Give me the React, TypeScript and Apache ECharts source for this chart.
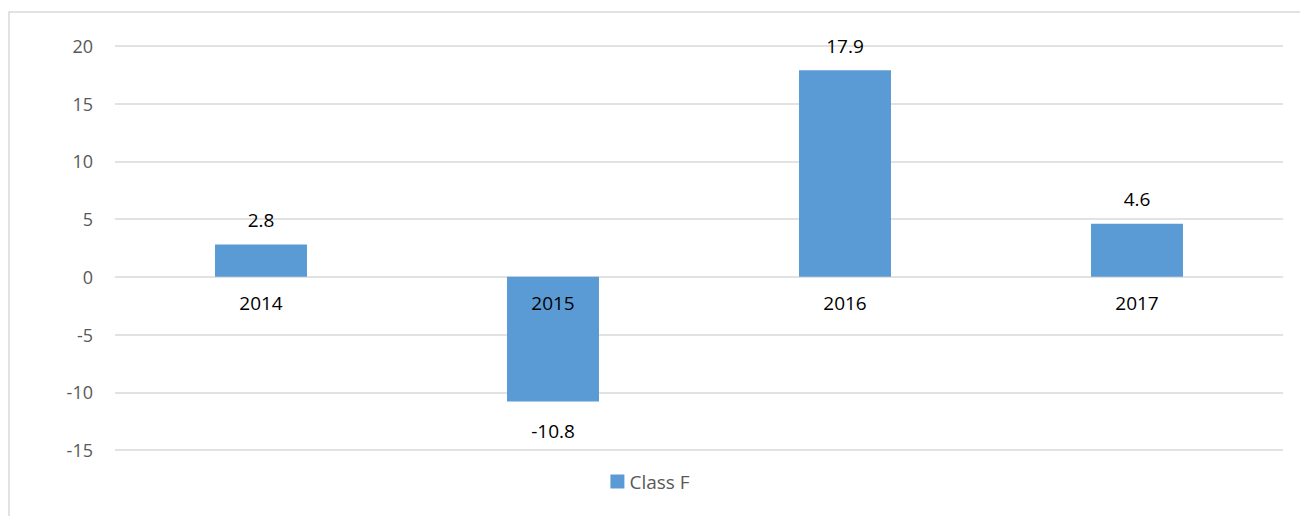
import React, { useEffect, useRef } from "react";
import * as echarts from "echarts";

const categories = ["2014", "2015", "2016", "2017"];
const classF = [2.8, -10.8, 17.9, 4.6];
const yTicks = { min: -15, max: 20, interval: 5 };

export default function App() {
  const ref = useRef<HTMLDivElement>(null);
  useEffect(() => {
    document.body.style.margin = "0";
    const chart = echarts.init(ref.current!, null, { renderer: "svg" });
    const font = "'Open Sans', 'Liberation Sans', sans-serif";
    chart.setOption({
      animation: false,
      graphic: [
        {
          type: "rect",
          shape: { x: 9, y: 12, width: 1300, height: 520 },
          style: { fill: "none", stroke: "#D9D9D9", lineWidth: 1.5 },
          silent: true,
        },
      ],
      grid: { left: 115, right: 17, top: 46, bottom: 66, containLabel: false },
      legend: {
        data: ["Class F"],
        top: 467,
        left: "center",
        itemWidth: 14,
        itemHeight: 14,
        itemGap: 6,
        textStyle: { color: "#595959", fontSize: 19, fontFamily: font },
        icon: "rect",
      },
      xAxis: {
        type: "category",
        data: categories,
        z: 10,
        axisLine: { show: false },
        axisTick: { show: false },
        axisLabel: { color: "#000", fontSize: 19, fontFamily: font, margin: -157 },
      },
      yAxis: {
        type: "value",
        min: yTicks.min,
        max: yTicks.max,
        interval: yTicks.interval,
        axisLine: { show: false },
        axisTick: { show: false },
        axisLabel: { color: "#595959", fontSize: 18, fontFamily: font, margin: 22 },
        splitLine: { lineStyle: { color: "#D9D9D9", width: 1.5 } },
      },
      series: [
        {
          name: "Class F",
          type: "bar",
          z: 2,
          barWidth: "31.5%",
          itemStyle: { color: "#5B9BD5" },
          data: classF.map((v) => ({
            value: v,
            label: { position: v >= 0 ? "top" : "bottom", distance: v >= 0 ? 15 : 20 },
          })),
          label: {
            show: true,
            color: "#000",
            fontSize: 19,
            fontFamily: font,
          },
        },
      ],
    });
    return () => chart.dispose();
  }, []);
  return (
    <div
      ref={ref}
      style={{ position: "absolute", left: 0, top: 0, width: 1300, height: 516 }}
    />
  );
}
